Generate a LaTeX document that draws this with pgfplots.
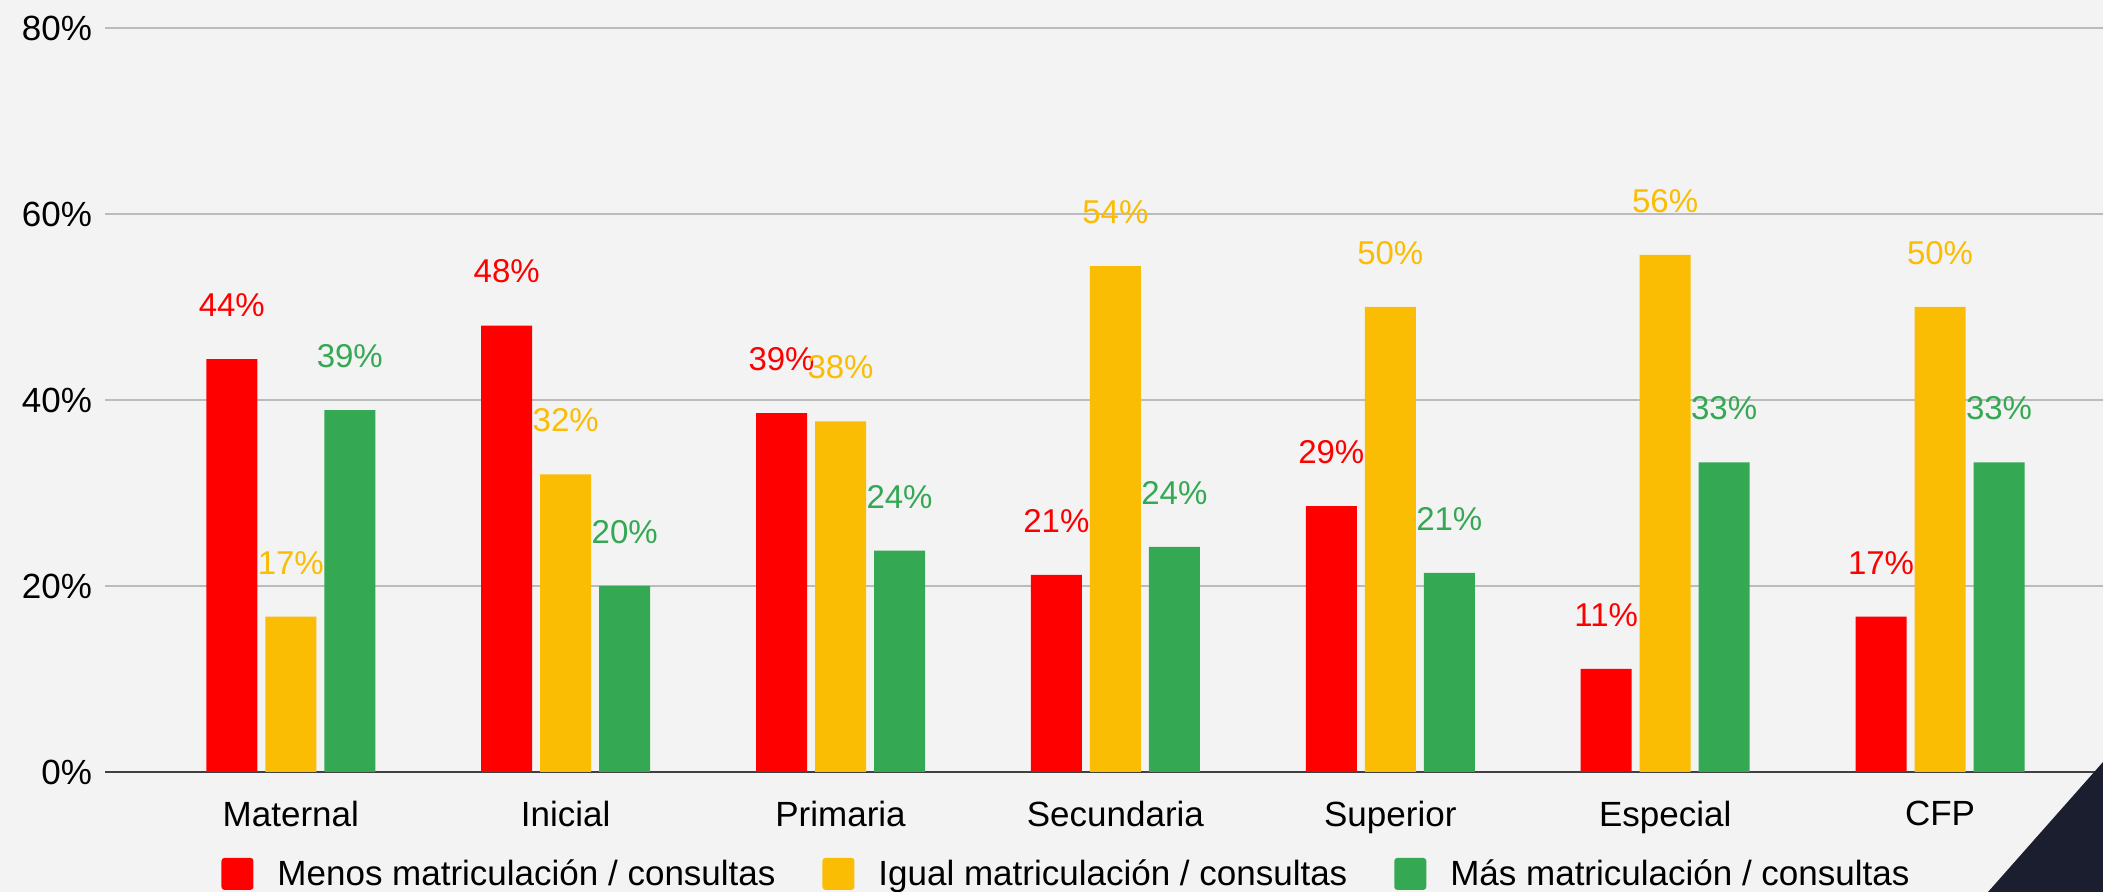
\documentclass[border=0pt]{standalone}
\usepackage{pgfplots}
\pgfplotsset{compat=1.18}
\usepackage{fontspec}
\setmainfont{Liberation Sans}
\definecolor{bg}{HTML}{F3F3F3}
\definecolor{cred}{HTML}{FF0000}
\definecolor{cyel}{HTML}{FBBC04}
\definecolor{cgrn}{HTML}{34A853}
\definecolor{navy}{HTML}{1B1E2F}
\definecolor{gridc}{HTML}{BBBBBB}
\newcommand{\lbl}{\fontsize{17.5}{21}\selectfont}
\newcommand{\dlbl}{\fontsize{16.5}{20}\selectfont}
\begin{document}
\begin{tikzpicture}
\fill[bg] (0,0) rectangle (1051.5pt,446pt);
\useasboundingbox (0,0) rectangle (1051.5pt,446pt);
\begin{axis}[
  at={(52.5pt,60pt)}, anchor=south west,
  scale only axis, width=999pt, height=372pt,
  xmin=-0.676, xmax=6.593, ymin=0, ymax=80,
  ybar, bar width=25.5pt,
  axis x line*=bottom, axis y line*=left,
  x axis line style={draw=black!75, line width=1.4pt},
  y axis line style={draw=none},
  ymajorgrids, grid style={gridc, line width=1pt},
  major tick length=0pt,
  xtick={0,...,6},
  xticklabels={Maternal,Inicial,Primaria,Secundaria,Superior,Especial,CFP},
  ytick={0,20,40,60,80},
  yticklabels={0\%,20\%,40\%,60\%,80\%},
  tick label style={font=\lbl, text=black},
  x tick label style={yshift=-11pt},
  y tick label style={xshift=-3pt},
  /pgf/number format/assume math mode=true,
  nodes near coords={\pgfmathprintnumber[fixed,precision=0]{\pgfplotspointmeta}\%},
  every node near coord/.append style={font=\dlbl, anchor=center, yshift=27pt, inner sep=1pt},
  legend columns=3,
  legend style={at={(0.4817,-0.137)}, anchor=center, draw=none, fill=none,
    font=\lbl,
    /tikz/every odd column/.append style={column sep=10pt},
    /tikz/every even column/.append style={column sep=21.5pt}},
  legend image code/.code={\fill[#1,draw=none,rounded corners=1.5pt] (0pt,-8pt) rectangle (16pt,8pt);},
]
\addplot[fill=cred, draw=none, bar shift=-29.5pt,
  every node near coord/.append style={text=cred}] coordinates {
(0,44.4) (1,48.0) (2,38.6) (3,21.2) (4,28.6) (5,11.1) (6,16.7)};
\addplot[fill=cyel, draw=none, bar shift=0pt,
  every node near coord/.append style={text=cyel}] coordinates {
(0,16.7) (1,32.0) (2,37.7) (3,54.4) (4,50.0) (5,55.6) (6,50.0)};
\addplot[fill=cgrn, draw=none, bar shift=29.5pt,
  every node near coord/.append style={text=cgrn}] coordinates {
(0,38.9) (1,20.0) (2,23.8) (3,24.2) (4,21.4) (5,33.3) (6,33.3)};
\legend{Menos matriculación / consultas, Igual matriculación / consultas, Más matriculación / consultas}
\end{axis}
\fill[navy] (994pt,0) -- (1051.5pt,65pt) -- (1051.5pt,0) -- cycle;
\end{tikzpicture}
\end{document}
